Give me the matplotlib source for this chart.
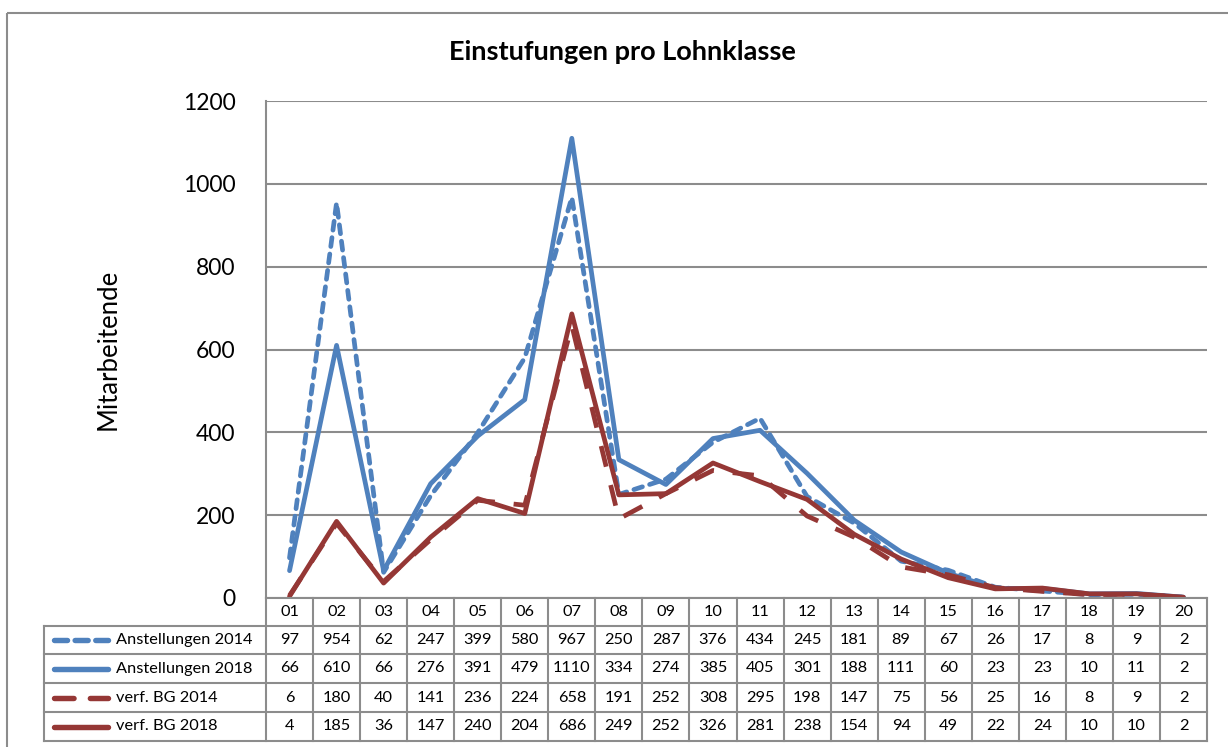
import matplotlib.pyplot as plt
from matplotlib.patches import Rectangle

plt.rcParams['font.family'] = ['Lato', 'DejaVu Sans']

klassen = ["01", "02", "03", "04", "05", "06", "07", "08", "09", "10",
           "11", "12", "13", "14", "15", "16", "17", "18", "19", "20"]
anst_2014 = [97, 954, 62, 247, 399, 580, 967, 250, 287, 376, 434, 245, 181, 89, 67, 26, 17, 8, 9, 2]
anst_2018 = [66, 610, 66, 276, 391, 479, 1110, 334, 274, 385, 405, 301, 188, 111, 60, 23, 23, 10, 11, 2]
bg_2014 = [6, 180, 40, 141, 236, 224, 658, 191, 252, 308, 295, 198, 147, 75, 56, 25, 16, 8, 9, 2]
bg_2018 = [4, 185, 36, 147, 240, 204, 686, 249, 252, 326, 281, 238, 154, 94, 49, 22, 24, 10, 10, 2]
namen = ["Anstellungen 2014", "Anstellungen 2018", "verf. BG 2014", "verf. BG 2018"]

blau = '#4f81bd'
rot = '#953735'
grau = '#8c8c8c'
lw = 3.4
stile = [
    dict(color=blau, linestyle=(0, (1.9, 1.6)), dash_capstyle='round'),
    dict(color=blau, linestyle='-', solid_capstyle='round'),
    dict(color=rot, linestyle=(0, (4.5, 4.0)), dash_capstyle='butt'),
    dict(color=rot, linestyle='-', solid_capstyle='round'),
]
reihen = [anst_2014, anst_2018, bg_2014, bg_2018]

W, H = 1228, 747
fig = plt.figure(figsize=(W / 100, H / 100), dpi=100)

# pixel layout
L, R, T, B = 266, 1207, 101, 598
ax = fig.add_axes([L / W, 1 - B / H, (R - L) / W, (B - T) / H])
x = range(len(klassen))
for werte, st in zip(reihen, stile):
    ax.plot(x, werte, lw=lw, solid_joinstyle='round', **st, zorder=3)

ax.set_xlim(-0.5, len(klassen) - 0.5)
ax.set_ylim(0, 1200)
ax.set_yticks(range(0, 1201, 200))
ax.set_xticks([])
ax.tick_params(axis='y', length=0, labelsize=16.5, pad=22)
ax.grid(axis='y', color=grau, lw=1.5)
ax.set_axisbelow(True)
for s in ['top', 'right', 'bottom']:
    ax.spines[s].set_visible(False)
ax.spines['left'].set_color(grau)
ax.spines['left'].set_linewidth(1.5)
ax.spines['left'].set_zorder(4)
ax.set_ylabel("Mitarbeitende", fontsize=18.5, labelpad=45)

fig.text(622 / W, 1 - 52 / H, "Einstufungen pro Lohnklasse", ha='center', va='center',
         fontsize=19.5, fontweight='bold')

# overlay for table and frame, pixel coordinates
ov = fig.add_axes([0, 0, 1, 1], zorder=5)
ov.set_xlim(0, W)
ov.set_ylim(H, 0)
ov.axis('off')
ov.patch.set_alpha(0)

ov.add_patch(Rectangle((7, 13), W + 20, H + 20, fill=False, ec=grau, lw=1.5))

n = len(klassen)
cw = (R - L) / n
zeilen = [598, 626, 654, 683, 712, 741]
links = 44
kw = dict(color=grau, lw=1.5)

ov.plot([L, R], [zeilen[0], zeilen[0]], **kw)
for i in range(n + 1):
    ov.plot([L + i * cw] * 2, [zeilen[0], zeilen[-1]], **kw)
for j in range(1, len(zeilen)):
    ov.plot([links, R], [zeilen[j], zeilen[j]], **kw)
ov.plot([links, links], [zeilen[1], zeilen[-1]], **kw)

fs = 11.8
legende_stile = [
    dict(color=blau, linestyle=(0, (2.4, 1.4)), dash_capstyle='round'),
    stile[1],
    dict(color=rot, linestyle=(0, (3.6, 3.0)), dash_capstyle='round'),
    stile[3],
]
for i, k in enumerate(klassen):
    ov.text(L + (i + 0.5) * cw, (zeilen[0] + zeilen[1]) / 2, k, ha='center', va='center', fontsize=fs)

for r, (name, werte, st) in enumerate(zip(namen, reihen, legende_stile)):
    yc = (zeilen[r + 1] + zeilen[r + 2]) / 2
    ov.plot([54, 108], [yc, yc], lw=lw * 1.15, **st)
    ov.text(116, yc, name, ha='left', va='center', fontsize=fs)
    for i, v in enumerate(werte):
        ov.text(L + (i + 0.5) * cw, yc, str(v), ha='center', va='center', fontsize=fs)

fig.savefig("out.png", dpi=100)
